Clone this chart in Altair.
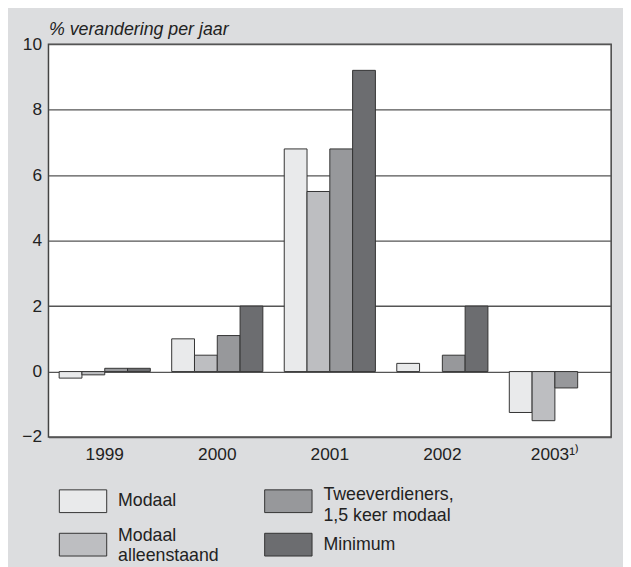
import altair as alt
import pandas as pd

years = ["1999", "2000", "2001", "2002", "2003¹⁾"]
series = ["Modaal", "Modaal alleenstaand", "Tweeverdieners, 1,5 keer modaal", "Minimum"]
legend_labels = ["Modaal", "Modaal\nalleenstaand", "Tweeverdieners,\n1,5 keer modaal", "Minimum"]
modaal = [-0.2, 1.0, 6.8, 0.25, -1.25]
alleenstaand = [-0.1, 0.5, 5.5, None, -1.5]
tweeverdieners = [0.1, 1.1, 6.8, 0.5, -0.5]
minimum = [0.1, 2.0, 9.2, 2.0, None]
colors = ["#e9eaeb", "#bdbec1", "#97989b", "#6c6d70"]
y_ticks = [-2, 0, 2, 4, 6, 8, 10]

rows = []
for name, vals in zip(series, [modaal, alleenstaand, tweeverdieners, minimum]):
    for yr, v in zip(years, vals):
        if v is not None:
            rows.append({"jaar": yr, "reeks": name, "waarde": v})
df = pd.DataFrame(rows)

# legend entries laid out in two columns (column-major)
legend_df = pd.DataFrame({
    "reeks": series,
    "tekst": legend_labels,
    "kolom": [i // 2 for i in range(len(series))],
    "rij": [i % 2 for i in range(len(series))],
})

FONT = "Liberation Sans"
color_scale = alt.Scale(domain=series, range=colors)

bars = alt.Chart(df).mark_bar(stroke="#333333", strokeWidth=1).encode(
    x=alt.X(
        "jaar:N",
        sort=years,
        scale=alt.Scale(paddingInner=0.19, paddingOuter=0.095),
        axis=alt.Axis(
            title=None, ticks=False, domain=False, labelAngle=0,
            labelFontSize=17.5, labelFont=FONT, labelColor="#222222", labelPadding=9,
        ),
    ),
    xOffset=alt.XOffset("reeks:N", sort=series, scale=alt.Scale(paddingInner=0, paddingOuter=0)),
    y=alt.Y(
        "waarde:Q",
        scale=alt.Scale(domain=[-2, 10], nice=False, zero=False),
        axis=alt.Axis(
            values=y_ticks, grid=True, ticks=False, domain=False,
            gridColor="#555555", gridWidth=1.3,
            labelFontSize=17.5, labelFont=FONT, labelColor="#222222", labelPadding=7,
            labelExpr="replace(datum.label, '-', '−')",
            title="% verandering per jaar", titleAngle=0, titleX=0, titleY=-10,
            titleAlign="left", titleBaseline="alphabetic", titleFontStyle="italic",
            titleFontWeight="normal", titleFontSize=18, titleFont=FONT, titleColor="#222222",
        ),
    ),
    color=alt.Color("reeks:N", scale=color_scale, legend=None),
)

# custom legend below the plot (placed through its own scales)
lx = alt.X("kolom:Q", scale=alt.Scale(domain=[0, 1], range=[35, 243]), axis=None)
ly = alt.Y("rij:Q", scale=alt.Scale(domain=[0, 1], range=[463, 507]), axis=None)

symbols = alt.Chart(legend_df).mark_point(
    shape="M-1,-0.48H1V0.48H-1Z", size=2304, filled=True, opacity=1,
    stroke="#333333", strokeWidth=1,
).encode(x=lx, y=ly, color=alt.Color("reeks:N", scale=color_scale, legend=None))

label_shift = {"Modaal": 0, "Minimum": 0, "Modaal alleenstaand": -9, "Tweeverdieners, 1,5 keer modaal": -6}
text_layers = []
for shift in sorted(set(label_shift.values())):
    names = [n for n in series if label_shift[n] == shift]
    text_layers.append(
        alt.Chart(legend_df).transform_filter(
            alt.FieldOneOfPredicate(field="reeks", oneOf=names)
        ).mark_text(
            align="left", baseline="middle", dx=35.5, dy=shift,
            fontSize=18, font=FONT, color="#222222", lineBreak="\n", lineHeight=21,
        ).encode(x=lx, y=ly, text="tekst:N")
    )

chart = alt.layer(bars, symbols, *text_layers).resolve_scale(
    x="independent", y="independent"
).properties(
    width=570, height=398,
    autosize=alt.AutoSizeParams(type="none"),
    padding={"left": 41, "top": 33, "right": 12, "bottom": 128},
    background="#dcdddf",
).configure_view(
    stroke="#444444", strokeWidth=1.5, fill="white",
)

chart.save("out.html", embed_options={"renderer": "svg", "actions": False})
